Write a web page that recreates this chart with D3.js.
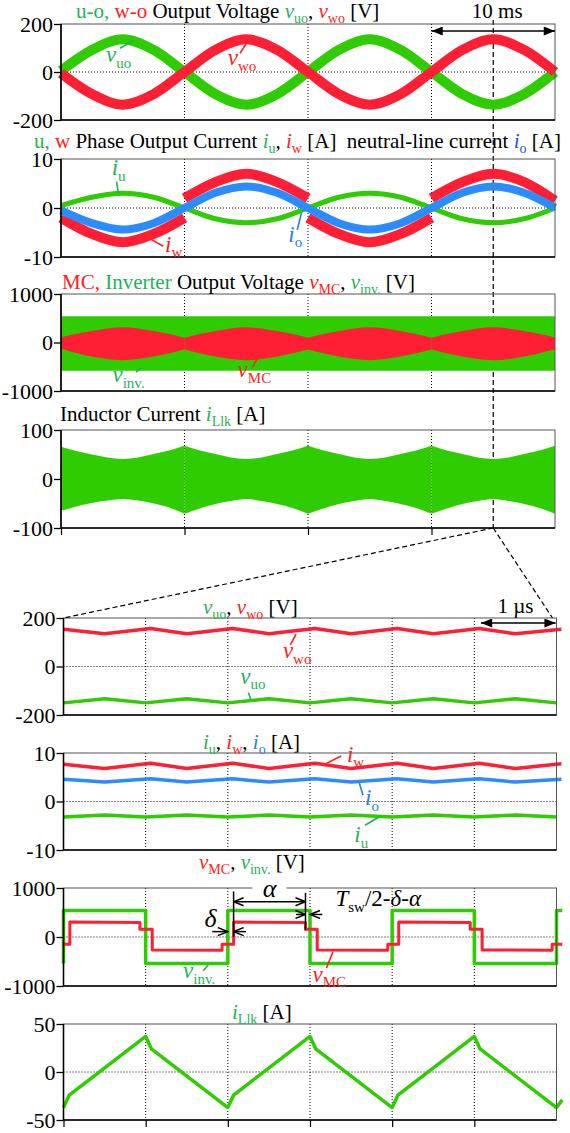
<!DOCTYPE html>
<html>
<head>
<meta charset="utf-8">
<script src="https://cdn.jsdelivr.net/npm/d3@7/dist/d3.min.js"></script>
<style>
  body { margin: 0; background: #fff; }
  text { white-space: pre; font-family: "Liberation Serif", "Times New Roman", serif; }
  .grid { stroke: #000; stroke-width: 1; stroke-dasharray: 1,2; fill: none; }
  .frame { fill: none; stroke: #555; stroke-width: 1; }
  .edge { stroke: #000; stroke-width: 1.6; }
  .dash { stroke: #000; stroke-width: 1.2; stroke-dasharray: 5,3; fill: none; }
</style>
</head>
<body>
<svg id="chart"></svg>
<script>
var FONT = "Liberation Serif";
// colours
var GREEN = "#2ecc00", RED = "#ff1f35", BLUE = "#2a8cff";
var TGREEN = "#1fb356", TRED = "#ff2020", TBLUE = "#2255ee", LBLUE = "#2a80e0";

// ---- upper four panels, time in ms ----
var tWave = [0, 2.5, 5, 7.5, 10, 12.5, 15, 17.5, 20, 22.5, 25, 27.5, 30, 32.5, 35, 37.5, 40];
var vuo = [5, 92, 136, 92, 0, -92, -136, -92, 0, 92, 136, 92, 0, -92, -136, -92, 0];
var vwo = [-5, -92, -136, -92, 0, 92, 136, 92, 0, -92, -136, -92, 0, 92, 136, 92, 0];
var iu = [0.5, 2.2, 3.0, 2.2, 0, -2.2, -3.0, -2.2, 0, 2.2, 3.0, 2.2, 0, -2.2, -3.0, -2.2, 0];
var io = [-0.5, -3.1, -4.4, -3.1, 0, 3.1, 4.4, 3.1, 0, -3.1, -4.4, -3.1, 0, 3.1, 4.4, 3.1, 0];
// iw jumps at every zero crossing, so the time list repeats there
var tIw = [0, 2.5, 5, 7.5, 10, 10, 12.5, 15, 17.5, 20, 20, 22.5, 25, 27.5, 30, 30, 32.5, 35, 37.5, 40];
var iw = [-2, -5.3, -7, -5.3, -2, 2, 5.3, 7, 5.3, 2, -2, -5.3, -7, -5.3, -2, 2, 5.3, 7, 5.3, 1.5];
// envelopes of the switched signals
var vmcHi = [110, 235, 312, 235, 97, 235, 312, 235, 97, 235, 312, 235, 97, 235, 312, 235, 105];
var vmcLo = [-130, -290, -365, -290, -146, -290, -365, -290, -146, -290, -365, -290, -146, -290, -365, -290, -140];
var tBand = [0, 40];
var vinvHi = [540, 540];
var vinvLo = [-580, -580];
var tEnv = d3.range(0, 40.001, 1.25);
var illkHi = [66, 57, 50, 44, 41, 44, 51, 58, 68, 58, 51, 44, 41, 44, 51, 58, 68, 58, 51, 44, 41, 44, 51, 58, 68, 58, 51, 44, 41, 44, 51, 58, 68];
var illkLo = [-65, -56, -49, -44, -41, -44, -50, -58, -71, -60, -51, -45, -41, -45, -51, -59, -71, -60, -51, -45, -41, -45, -51, -59, -71, -60, -51, -45, -41, -45, -51, -59, -71];

// ---- zoomed panels, time in us ----
var tZ = [0, 0.5, 1.06, 1.5, 2.06, 2.5, 3.06, 3.5, 4.06, 4.5, 5.06, 5.5, 6.06];
var vwoZ = [154, 135, 157, 135, 157, 135, 157, 135, 157, 135, 157, 135, 154];
var iwZ = [7.7, 6.8, 7.9, 6.8, 7.9, 6.8, 7.9, 6.8, 7.9, 6.8, 7.9, 6.8, 7.8];
var ioZ = [4.6, 4.0, 4.7, 4.0, 4.7, 4.0, 4.7, 4.0, 4.7, 4.0, 4.7, 4.0, 4.6];
var tZu = [0, 0.5, 1, 1.5, 2, 2.5, 3, 3.5, 4, 4.5, 5, 5.5, 6];
var vuoZ = [-150, -133, -150, -133, -150, -133, -150, -133, -150, -133, -150, -133, -150];
var iuZ = [-3.2, -2.8, -3.2, -2.8, -3.2, -2.8, -3.2, -2.8, -3.2, -2.8, -3.2, -2.8, -3.2];
var tInv = [0, 0, 1, 1, 2, 2, 3, 3, 4, 4, 5, 5, 6, 6, 6.07];
var vinvZ = [-540, 540, 540, -540, -540, 540, 540, -540, -540, 540, 540, -540, -540, 540, 540];
var tMc = [0, 0.077, 0.077, 0.93, 0.93, 1.08, 1.08, 1.93, 1.93, 2.07, 2.07, 2.945, 2.945, 3.088, 3.088,
           3.947, 3.947, 4.08, 4.08, 4.95, 4.95, 5.095, 5.095, 5.947, 5.947, 6.07];
var vmcZ = [-150, -150, 305, 295, 160, 160, -265, -268, -150, -150, 305, 298, 160, 160, -265, -268,
            -150, -150, 305, 298, 160, 160, -265, -268, -150, -150];
var tLlk = [0, 0.07, 1, 1.07, 2, 2.07, 3, 3.07, 4, 4.07, 5, 5.07, 6, 6.07];
var illkZ = [-37, -24, 37, 24, -37, -24, 37, 24, -37, -24, 37, 24, -37, -29];

// ---- axis ticks ----
var topGrid = [10, 20, 30];
var botGrid = [1, 2, 3, 4, 5];
var zoomAt = 35;

var svg = d3.select("#chart").attr("width", 570).attr("height", 1133).attr("font-family", FONT);
var defs = svg.append("defs");
defs.append("marker").attr("id", "tri").attr("viewBox", "0 0 10 8").attr("refX", 10).attr("refY", 4)
    .attr("markerWidth", 12).attr("markerHeight", 9).attr("markerUnits", "userSpaceOnUse")
    .attr("orient", "auto-start-reverse")
    .append("path").attr("d", "M0,0L10,4L0,8Z").attr("fill", "#000");
defs.append("marker").attr("id", "open").attr("viewBox", "-1 -1 12 10").attr("refX", 10).attr("refY", 4)
    .attr("markerWidth", 12).attr("markerHeight", 10).attr("markerUnits", "userSpaceOnUse")
    .attr("orient", "auto-start-reverse")
    .append("path").attr("d", "M0,0L10,4L0,8").attr("fill", "none").attr("stroke", "#000").attr("stroke-width", 1.5);

var gridLayer = svg.append("g"), dataLayer = svg.append("g"),
    frameLayer = svg.append("g"), annoLayer = svg.append("g");

var xTop = d3.scaleLinear().domain([0, 40]).range([61, 555]);
var xBot = d3.scaleLinear().domain([0, 6]).range([63.5, 556.5]);

function makePanel(top, bottom, max, x, grid) {
    var y = d3.scaleLinear().domain([-max, max]).range([bottom, top]);
    gridLayer.selectAll(null).data(grid).enter().append("line").attr("class", "grid")
        .attr("x1", function (d) { return x(d); }).attr("x2", function (d) { return x(d); })
        .attr("y1", top).attr("y2", bottom);
    gridLayer.append("line").attr("class", "grid")
        .attr("x1", x.range()[0]).attr("x2", x.range()[1]).attr("y1", y(0)).attr("y2", y(0));
    var x0 = x.range()[0], x1 = x.range()[1];
    frameLayer.append("rect").attr("class", "frame")
        .attr("x", x0).attr("y", top).attr("width", x1 - x0).attr("height", bottom - top);
    frameLayer.append("line").attr("class", "edge").attr("x1", x0).attr("x2", x0).attr("y1", top).attr("y2", bottom);
    frameLayer.append("line").attr("class", "edge").attr("x1", x0).attr("x2", x1).attr("y1", bottom).attr("y2", bottom);
    var ax = frameLayer.append("g").attr("transform", "translate(" + x0 + ",0)")
        .call(d3.axisLeft(y).tickValues([max, 0, -max]).tickSize(7).tickPadding(1)
            .tickFormat(function (d) { return String(d); }));
    ax.attr("font-family", FONT).attr("font-size", 22);
    ax.select(".domain").remove();
    ax.selectAll("text").attr("fill", "#000").attr("font-family", FONT);
    ax.selectAll("line").attr("stroke", "#000").attr("stroke-width", 1.3);
    return { x: x, y: y, top: top, bottom: bottom };
}

function bottomTicks(p, vals) {
    var ax = frameLayer.append("g").attr("transform", "translate(0," + p.bottom + ")")
        .call(d3.axisBottom(p.x).tickValues(vals).tickSize(7).tickFormat(""));
    ax.select(".domain").remove();
    ax.selectAll("line").attr("stroke", "#000").attr("stroke-width", 1.2);
}

var p1 = makePanel(24, 120, 200, xTop, topGrid);
var p2 = makePanel(159, 257, 10, xTop, topGrid);
var p3 = makePanel(294, 391, 1000, xTop, topGrid);
var p4 = makePanel(430, 528, 100, xTop, topGrid);
var p5 = makePanel(618, 715, 200, xBot, botGrid);
var p6 = makePanel(753, 850, 10, xBot, botGrid);
var p7 = makePanel(888, 986, 1000, xBot, botGrid);
var p8 = makePanel(1024, 1120, 50, xBot, botGrid);
bottomTicks(p4, [0, 10, 20, 30]);
bottomTicks(p8, [0, 1, 2, 3, 4, 5]);

function zip(ts, vs) { return ts.map(function (t, i) { return [t, vs[i]]; }); }
// split where a time value repeats (a jump in the waveform)
function splitJumps(pts) {
    var out = [], cur = [];
    pts.forEach(function (d, i) {
        if (i > 0 && d[0] === pts[i - 1][0]) { out.push(cur); cur = []; }
        cur.push(d);
    });
    out.push(cur);
    return out;
}
function drawLine(p, pts, color, width, curve) {
    var line = d3.line().x(function (d) { return p.x(d[0]); }).y(function (d) { return p.y(d[1]); })
        .curve(curve || d3.curveLinear);
    dataLayer.append("path").datum(pts).attr("d", line).attr("fill", "none")
        .attr("stroke", color).attr("stroke-width", width).attr("stroke-linejoin", "round");
}
function drawBand(p, ts, hi, lo, color, cuts) {
    var area = d3.area().x(function (d) { return p.x(d.t); })
        .y0(function (d) { return p.y(d.lo); }).y1(function (d) { return p.y(d.hi); })
        .curve(d3.curveMonotoneX);
    var pts = ts.map(function (t, i) { return { t: t, hi: hi[i], lo: lo[i] }; });
    var bounds = [ts[0]].concat(cuts || []).concat([ts[ts.length - 1]]);
    for (var k = 0; k < bounds.length - 1; k++) {
        var seg = pts.filter(function (d) { return d.t >= bounds[k] - 1e-9 && d.t <= bounds[k + 1] + 1e-9; });
        dataLayer.append("path").datum(seg).attr("d", area).attr("fill", color);
    }
}

// panel 1
drawLine(p1, zip(tWave, vuo), GREEN, 10, d3.curveMonotoneX);
drawLine(p1, zip(tWave, vwo), RED, 10, d3.curveMonotoneX);
// panel 2
splitJumps(zip(tIw, iw)).forEach(function (s) { drawLine(p2, s, RED, 10, d3.curveMonotoneX); });
drawLine(p2, zip(tWave, iu), GREEN, 5, d3.curveMonotoneX);
drawLine(p2, zip(tWave, io), BLUE, 8, d3.curveMonotoneX);
// panel 3
drawBand(p3, tBand, vinvHi, vinvLo, GREEN);
drawBand(p3, tWave, vmcHi, vmcLo, RED, topGrid);
// panel 4
drawBand(p4, tEnv, illkHi, illkLo, GREEN, topGrid);
// panel 5-8
drawLine(p5, zip(tZ, vwoZ), RED, 3.5);
drawLine(p5, zip(tZu, vuoZ), GREEN, 3.5);
drawLine(p6, zip(tZ, iwZ), RED, 3.5);
drawLine(p6, zip(tZ, ioZ), BLUE, 3.5);
drawLine(p6, zip(tZu, iuZ), GREEN, 3.5);
drawLine(p7, zip(tInv, vinvZ), GREEN, 3.5);
drawLine(p7, zip(tMc, vmcZ), RED, 3);
drawLine(p8, zip(tLlk, illkZ), GREEN, 3.5);

// rich text: parts are [text, flags, colour]; flags "i" italic, "s" subscript
function rich(x, y, parts, size, anchor) {
    var t = annoLayer.append("text").attr("x", x).attr("y", y).attr("font-size", size)
        .attr("font-family", FONT).attr("text-anchor", anchor || "start");
    var sub = false, shift = size * 0.24;
    parts.forEach(function (p) {
        var s = t.append("tspan").text(p[0]).attr("fill", p[2] || "#000");
        var f = p[1] || "";
        if (f.indexOf("i") >= 0) s.attr("font-style", "italic");
        if (f.indexOf("s") >= 0) {
            s.attr("font-size", Math.round(size * 0.66));
            if (!sub) s.attr("dy", shift);
            sub = true;
        } else if (sub) { s.attr("dy", -shift); sub = false; }
    });
    return t;
}

// titles
var TS = 21;
rich(76, 18, [["u-o, ", "", TGREEN], ["w-o ", "", TRED], ["Output Voltage "], ["v", "i", TGREEN], ["uo", "s", TGREEN],
    [", "], ["v", "i", TRED], ["wo", "s", TRED], [" [V]"]], TS);
rich(34, 148, [["u, ", "", TGREEN], ["w ", "", TRED], ["Phase Output Current "], ["i", "i", TGREEN], ["u", "s", TGREEN],
    [", "], ["i", "i", TRED], ["w", "s", TRED], [" [A]  neutral-line current "], ["i", "i", TBLUE], ["o", "s", TBLUE], [" [A]"]], TS);
rich(62, 289, [["MC, ", "", TRED], ["Inverter ", "", TGREEN], ["Output Voltage "], ["v", "i", TRED], ["MC", "s", TRED],
    [", "], ["v", "i", TGREEN], ["inv.", "s", TGREEN], [" [V]"]], TS);
rich(60, 421, [["Inductor Current "], ["i", "i", TGREEN], ["Llk", "s", TGREEN], [" [A]"]], TS);
rich(203, 614, [["v", "i", TGREEN], ["uo", "s", TGREEN], [", "], ["v", "i", TRED], ["wo", "s", TRED], [" [V]"]], TS);
rich(203, 749, [["i", "i", TGREEN], ["u", "s", TGREEN], [", "], ["i", "i", TRED], ["w", "s", TRED], [", "],
    ["i", "i", LBLUE], ["o", "s", LBLUE], [" [A]"]], TS);
rich(199, 869, [["v", "i", TRED], ["MC", "s", TRED], [", "], ["v", "i", TGREEN], ["inv.", "s", TGREEN], [" [V]"]], TS);
rich(232, 1019, [["i", "i", TGREEN], ["Llk", "s", TGREEN], [" [A]"]], TS);

// curve labels with leader lines: position in data units
var labels = [
    { p: p1, t: 3.64, v: 41, parts: [["v", "i", TGREEN], ["uo", "s", TGREEN]], c: TGREEN, lead: [[4.78, 99], [5.85, 130]] },
    { p: p1, t: 13.5, v: 29, parts: [["v", "i", TRED], ["wo", "s", TRED]], c: TRED, lead: [[14.5, 78], [15.04, 122]] },
    { p: p2, t: 4.1, v: 6.7, parts: [["i", "i", TGREEN], ["u", "s", TGREEN]], c: TGREEN, lead: [[4.5, 5.4], [4.64, 3.0]] },
    { p: p2, t: 8.42, v: -8.9, parts: [["i", "i", TRED], ["w", "s", TRED]], c: TRED, lead: [[8.28, -7.8], [6.94, -5.9]] },
    { p: p2, t: 18.4, v: -6.9, parts: [["i", "i", LBLUE], ["o", "s", LBLUE]], c: LBLUE, lead: [[19.13, -4.5], [19.49, -0.8]] },
    { p: p3, t: 4.17, v: -819, parts: [["v", "i", TGREEN], ["inv.", "s", TGREEN]], c: TGREEN, lead: [[6.07, -612], [6.53, -522]] },
    { p: p3, t: 14.3, v: -715, parts: [["v", "i", TRED], ["MC", "s", TRED]], c: TRED, lead: [[15.5, -509], [16.0, -289]] },
    { p: p5, t: 2.67, v: 35, parts: [["v", "i", TRED], ["wo", "s", TRED]], c: TRED, lead: [[2.76, 89], [2.83, 133]] },
    { p: p5, t: 2.15, v: -71, parts: [["v", "i", TGREEN], ["uo", "s", TGREEN]], c: TGREEN, lead: [[2.25, -107], [2.28, -136]] },
    { p: p6, t: 3.45, v: 8.2, parts: [["i", "i", TRED], ["w", "s", TRED]], c: TRED, lead: [[3.18, 7.7], [3.38, 9.4]] },
    { p: p6, t: 3.67, v: -0.8, parts: [["i", "i", LBLUE], ["o", "s", LBLUE]], c: LBLUE, lead: [[3.6, 3.8], [3.645, 1.3]] },
    { p: p6, t: 3.54, v: -8.4, parts: [["i", "i", TGREEN], ["u", "s", TGREEN]], c: TGREEN, lead: [[3.67, -4.9], [3.84, -3.2]] },
    { p: p7, t: 1.455, v: -837, parts: [["v", "i", TGREEN], ["inv.", "s", TGREEN]], c: TGREEN, lead: [[1.7, -694], [1.76, -571]] },
    { p: p7, t: 3.03, v: -912, parts: [["v", "i", TRED], ["MC", "s", TRED]], c: TRED, lead: [[3.2, -633], [3.28, -300]] }
];
labels.forEach(function (l) {
    rich(l.p.x(l.t), l.p.y(l.v), l.parts, 23);
    annoLayer.append("line").attr("x1", l.p.x(l.lead[0][0])).attr("y1", l.p.y(l.lead[0][1]))
        .attr("x2", l.p.x(l.lead[1][0])).attr("y2", l.p.y(l.lead[1][1]))
        .attr("stroke", l.c).attr("stroke-width", 1.6);
});

// 10 ms marker and zoom guide lines
annoLayer.append("line").attr("x1", xTop(30)).attr("x2", xTop(40)).attr("y1", 31).attr("y2", 31)
    .attr("stroke", "#000").attr("stroke-width", 1.5)
    .attr("marker-start", "url(#tri)").attr("marker-end", "url(#tri)");
annoLayer.append("text").attr("x", (xTop(30) + xTop(40)) / 2 + 4).attr("y", 18).attr("font-size", TS)
    .attr("font-family", FONT).attr("text-anchor", "middle").text("10 ms");
gridLayer.append("line").attr("class", "dash").attr("x1", xTop(zoomAt)).attr("x2", xTop(zoomAt))
    .attr("y1", 20).attr("y2", p4.bottom);
annoLayer.append("line").attr("class", "dash").attr("x1", xTop(zoomAt)).attr("y1", p4.bottom)
    .attr("x2", xBot(0)).attr("y2", p5.top);
annoLayer.append("line").attr("class", "dash").attr("x1", xTop(zoomAt)).attr("y1", p4.bottom)
    .attr("x2", xBot(6) - 4).attr("y2", p5.top);

// 1 us marker
annoLayer.append("line").attr("x1", xBot(5.08)).attr("x2", xBot(5.99)).attr("y1", 623).attr("y2", 623)
    .attr("stroke", "#000").attr("stroke-width", 1.5)
    .attr("marker-start", "url(#tri)").attr("marker-end", "url(#tri)");
annoLayer.append("text").attr("x", xBot(5.5)).attr("y", 613).attr("font-size", TS)
    .attr("font-family", FONT).attr("text-anchor", "middle").text("1 \u00b5s");

// timing annotations in panel 7
function arrow(x1, y1, x2, y2, both) {
    var l = annoLayer.append("line").attr("x1", x1).attr("y1", y1).attr("x2", x2).attr("y2", y2)
        .attr("stroke", "#000").attr("stroke-width", 1.5).attr("marker-end", "url(#open)");
    if (both) l.attr("marker-start", "url(#open)");
}
function vline(t, v1, v2) {
    annoLayer.append("line").attr("x1", p7.x(t)).attr("x2", p7.x(t)).attr("y1", p7.y(v1)).attr("y2", p7.y(v2))
        .attr("stroke", "#000").attr("stroke-width", 1.5);
}
var aStart = 2.07, aEnd = 2.945;
vline(aStart, 930, 0);
vline(aEnd, 900, 140);
arrow(p7.x(aStart), p7.y(720), p7.x(aEnd), p7.y(720), true);
var aMid = (p7.x(aStart) + p7.x(aEnd)) / 2;
annoLayer.append("rect").attr("x", aMid - 17).attr("y", p7.top - 3).attr("width", 34).attr("height", 6).attr("fill", "#fff");
annoLayer.append("text").attr("x", aMid).attr("y", p7.y(816)).attr("font-size", 26).attr("font-style", "italic")
    .attr("font-family", FONT).attr("text-anchor", "middle").text("\u03b1");
arrow(p7.x(1.81), p7.y(110), p7.x(2.0), p7.y(110));
arrow(p7.x(2.22), p7.y(110), p7.x(aStart), p7.y(110));
annoLayer.append("text").attr("x", p7.x(1.79)).attr("y", p7.y(205)).attr("font-size", 26).attr("font-style", "italic")
    .attr("font-family", FONT).attr("text-anchor", "middle").text("\u03b4");
arrow(p7.x(2.83), p7.y(460), p7.x(aEnd), p7.y(460));
arrow(p7.x(3.15), p7.y(460), p7.x(3.0), p7.y(460));
rich(p7.x(3.31), p7.y(633), [["T", "i"], ["sw", "s"], ["/2-"], ["\u03b4", "i"], ["-"], ["\u03b1", "i"]], 23);
</script>
</body>
</html>
